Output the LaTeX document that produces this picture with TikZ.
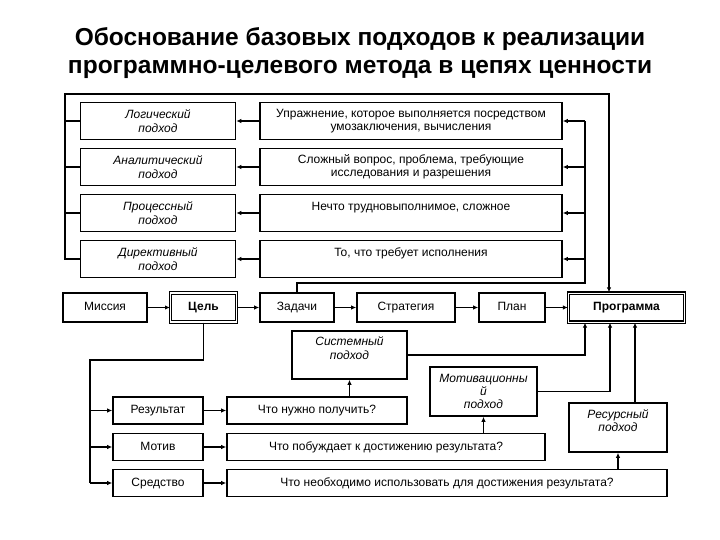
\documentclass[tikz,border=0pt]{standalone}
\usepackage{fontspec}
\setmainfont{Liberation Sans}
\usetikzlibrary{arrows.meta}

\begin{document}
\begin{tikzpicture}[x=1pt,y=-1pt,
    box/.style={draw,line width=1.6pt,inner sep=1pt,font=\fontsize{12}{13.5}\selectfont},
    multi/.style={box,align=center},
    appr/.style={multi,minimum width=155pt,minimum height=37pt,font=\fontsize{12}{13.5}\selectfont\itshape},
    defn/.style={multi,minimum width=302pt,minimum height=37pt},
    chain/.style={box,minimum height=29pt,text height=8.5pt,text depth=2.5pt},
    ask/.style={box,minimum height=27pt,text height=8.5pt,text depth=2.5pt},
    conn/.style={line width=1.6pt},
    arr/.style={conn,-{Latex[length=5pt,width=4.5pt]}}]
  \useasboundingbox (0,0) rectangle (720,540);
  \node[font=\fontsize{24.5}{28}\selectfont\bfseries,align=center] (title) at (360,53)
    {Обоснование базовых подходов к реализации\\программно-целевого метода в цепях ценности};

  % подходы и их смысл
  \node[appr] (ap1) at (158,121) {Логический\\подход};
  \node[appr] (ap2) at (158,167) {Аналитический\\подход};
  \node[appr] (ap3) at (158,213) {Процессный\\подход};
  \node[appr] (ap4) at (158,259) {Директивный\\подход};
  \node[defn] (df1) at (411,121) {Упражнение, которое выполняется посредством\\умозаключения, вычисления};
  \node[defn] (df2) at (411,167) {Сложный вопрос, проблема, требующие\\исследования и разрешения};
  \node[defn] (df3) at (411,213) {Нечто трудновыполнимое, сложное\\\mbox{}};
  \node[defn] (df4) at (411,259) {То, что требует исполнения\\\mbox{}};

  % цепочка
  \node[chain,minimum width=66pt,line width=1pt,double,double distance=1.2pt] (goal) at (203.5,307.5) {\bfseries Цель};
  \node[chain,minimum width=84pt] (mission) at (105,307.5) {Миссия};
  \node[chain,minimum width=74pt] (tasks) at (297,307.5) {Задачи};
  \node[chain,minimum width=98pt] (strategy) at (406,307.5) {Стратегия};
  \node[chain,minimum width=66pt] (plan) at (512,307.5) {План};
  \node[chain,minimum width=116pt,line width=1.3pt,double,double distance=0.8pt] (program) at (626.5,307.5) {\bfseries Программа};

  \node[multi,minimum width=115pt,minimum height=48pt,font=\fontsize{12}{13.5}\selectfont\itshape] (sys) at (349.5,355) {Системный\\подход\\\mbox{}};
  \node[multi,minimum width=107pt,minimum height=49pt,font=\fontsize{12}{13}\selectfont\itshape] (motiv) at (483.5,391.5) {Мотивационны\\й\\подход};
  \node[multi,minimum width=98pt,minimum height=49pt,font=\fontsize{12}{13.5}\selectfont\itshape] (resource) at (618,427.5) {Ресурсный\\подход\\\mbox{}};

  \node[ask,minimum width=90pt] (result) at (158,410.5) {Результат};
  \node[ask,minimum width=90pt] (motive) at (158,447) {Мотив};
  \node[ask,minimum width=90pt] (means) at (158,483) {Средство};
  \node[ask,minimum width=180pt] (q1) at (317,410.5) {Что нужно получить?};
  \node[ask,minimum width=318pt] (q2) at (386,447) {Что побуждает к достижению результата?};
  \node[ask,minimum width=440pt] (q3) at (447,483) {Что необходимо использовать для достижения результата?};

  \coordinate (fl) at (65,94);
  \coordinate (fr) at (609,94);
  \coordinate (zr) at (585,283);
  \coordinate (gl) at (90,360);

  % рамка сверху
  \draw[arr] (ap4.west) -| (fl) -- (fr) -- (fr |- program.north);
  \foreach \i in {1,2,3}
    \draw[conn] (ap\i.west) -- (ap\i.west -| fl);
  \draw[conn] (tasks.north) |- (zr) -- (zr |- df1.east);
  \foreach \i in {1,...,4} {
    \draw[arr] (df\i.east -| zr) -- (df\i.east);
    \draw[arr] (df\i.west) -- (ap\i.east);
  }

  \draw[arr] (mission) -- (goal);
  \draw[arr] (goal) -- (tasks);
  \draw[arr] (tasks) -- (strategy);
  \draw[arr] (strategy) -- (plan);
  \draw[arr] (plan) -- (program);

  % от цели вниз
  \draw[conn] (goal.south) |- (gl) -- (gl |- means.west);
  \foreach \n in {result,motive,means}
    \draw[arr] (gl |- \n.west) -- (\n.west);
  \draw[arr] (result) -- (q1);
  \draw[arr] (motive) -- (q2);
  \draw[arr] (means) -- (q3);

  \draw[arr] (sys.south |- q1.north) -- (sys.south);
  \draw[arr] (motiv.south |- q2.north) -- (motiv.south);
  \draw[arr] (resource.south |- q3.north) -- (resource.south);
  \draw[arr] (sys.east) -| ([xshift=-41.5pt]program.south);
  \draw[arr] (motiv.east) -| ([xshift=-16.5pt]program.south);
  \draw[arr] ([xshift=17pt]resource.north) -- ([xshift=8.5pt]program.south);
\end{tikzpicture}
\end{document}
